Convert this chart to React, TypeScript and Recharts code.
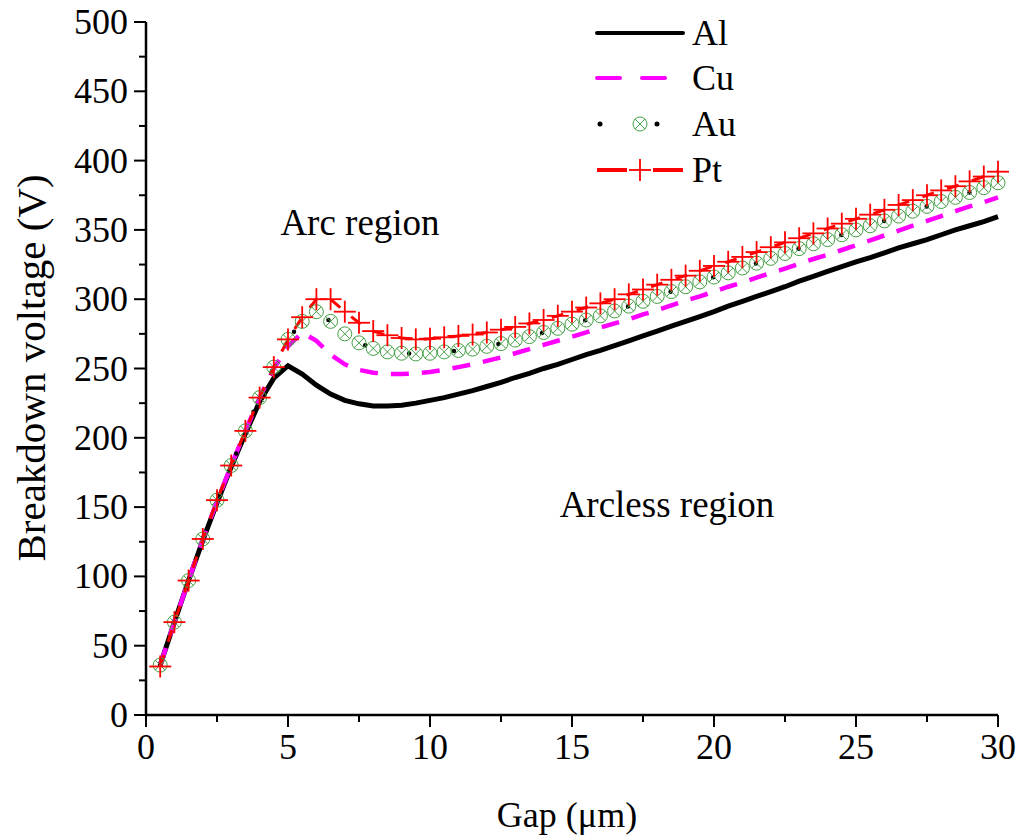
import { LineChart, Line, XAxis, YAxis } from "recharts";

// gap in micrometres
const gap = [
  0.5, 1, 1.5, 2, 2.5, 3, 3.5, 4, 4.5, 5,
  5.5, 6, 6.5, 7, 7.5, 8, 8.5, 9, 9.5, 10,
  10.5, 11, 11.5, 12, 12.5, 13, 13.5, 14, 14.5, 15,
  15.5, 16, 16.5, 17, 17.5, 18, 18.5, 19, 19.5, 20,
  20.5, 21, 21.5, 22, 22.5, 23, 23.5, 24, 24.5, 25,
  25.5, 26, 26.5, 27, 27.5, 28, 28.5, 29, 29.5, 30,
];

// breakdown voltage (V)
const al = [
  36, 67, 97, 126, 153, 179, 203, 226, 243, 252,
  246, 238, 231.5, 227, 224.5, 223, 223, 223.5, 225, 227,
  229, 231.5, 234, 237, 240, 243.5, 246.5, 250, 253, 256.5,
  260, 263, 266.5, 270, 273.5, 277, 280.5, 284, 287.5, 291,
  295, 298.5, 302, 305.5, 309, 313, 316.5, 320, 323.5, 327,
  330, 333.5, 337, 340, 343, 346.5, 350, 353, 356, 359.5,
];
const cu = [
  36, 67, 97, 127, 154, 180, 205, 229, 250, 266,
  276, 270, 260, 253, 249, 247, 246, 246, 246.5, 247.5,
  249, 251, 253, 255.5, 258, 261, 264, 267, 270, 273,
  276, 279.5, 282.5, 285.5, 289, 292, 295.5, 299, 302, 305.5,
  309, 312, 315.5, 319, 322, 325.5, 329, 332, 335.5, 339,
  342.5, 346, 349.5, 353, 356.5, 360, 363.5, 367, 370, 373.5,
];
const au = [
  36, 67, 97, 127, 155, 180, 205, 229, 251, 271,
  284, 291, 284, 275, 268.5, 264.5, 262, 261, 260.5, 261,
  262, 263, 264, 266, 268, 270.5, 273, 276, 279, 282,
  285, 288, 291.5, 295, 298.5, 302, 305.5, 309, 312.5, 316,
  319, 322.5, 326, 329.5, 333, 336.5, 340, 343, 346.5, 350,
  353, 356.5, 360, 363.5, 367, 370.5, 373.5, 377, 380.5, 384,
];
const pt = [
  35, 67, 97, 127, 155, 180, 205, 229, 251, 271,
  287, 300, 300, 291, 283, 277, 274, 272, 271, 271.5,
  272.5, 273.5, 274.5, 276, 278, 280, 282.5, 285, 288, 291,
  294, 297, 300, 303.5, 307, 310.5, 314, 317, 320.5, 324,
  327, 330.5, 334, 337.5, 341, 344, 347.5, 351, 354.5, 358,
  361, 364.5, 368, 371.5, 375, 378.5, 381.5, 385, 388.5, 392,
];

const xTicks = [0, 2.5, 5, 7.5, 10, 12.5, 15, 17.5, 20, 22.5, 25, 27.5, 30];
const yTicks = [
  0, 25, 50, 75, 100, 125, 150, 175, 200, 225, 250, 275, 300, 325, 350, 375,
  400, 425, 450, 475, 500,
];

const data = gap.map((g, i) => ({ gap: g, Al: al[i], Cu: cu[i], Au: au[i], Pt: pt[i] }));

const FONT = "'Liberation Serif', 'Times New Roman', serif";
const GREEN = "#44a044";
const MAGENTA = "#ff00ff";
const RED = "#ff0000";

function YTick(props: any) {
  const { x, y, payload } = props;
  const major = payload.value % 50 === 0;
  return (
    <g>
      <line x1={x - (major ? 12 : 7)} x2={x} y1={y} y2={y} stroke="#000" strokeWidth={2} />
      {major && (
        <text x={x - 18} y={y} textAnchor="end" dominantBaseline="central" fontSize={36} fontFamily={FONT} fill="#000">
          {payload.value}
        </text>
      )}
    </g>
  );
}

function XTick(props: any) {
  const { x, y, payload } = props;
  const major = payload.value % 5 === 0;
  return (
    <g>
      <line x1={x} x2={x} y1={y} y2={y + (major ? 12 : 7)} stroke="#000" strokeWidth={2} />
      {major && (
        <text x={x} y={y + 32} textAnchor="middle" dominantBaseline="central" fontSize={36} fontFamily={FONT} fill="#000">
          {payload.value}
        </text>
      )}
    </g>
  );
}

function AuMark({ cx, cy, r = 7 }: { cx: number; cy: number; r?: number }) {
  const d = r * 0.7;
  return (
    <g stroke={GREEN} strokeWidth={1} fill="none">
      <circle cx={cx} cy={cy} r={r} />
      <line x1={cx - d} y1={cy - d} x2={cx + d} y2={cy + d} />
      <line x1={cx - d} y1={cy + d} x2={cx + d} y2={cy - d} />
    </g>
  );
}

function PtMark({ cx, cy }: { cx: number; cy: number }) {
  return (
    <g stroke={RED} strokeWidth={1.8}>
      <line x1={cx - 11} y1={cy} x2={cx + 11} y2={cy} />
      <line x1={cx} y1={cy - 11} x2={cx} y2={cy + 11} />
    </g>
  );
}

function Overlay() {
  const rows = [33, 78, 124, 170];
  return (
    <svg width={1019} height={839} style={{ position: "absolute", left: 0, top: 0, pointerEvents: "none" }}>
      <g fontFamily={FONT} fill="#000">
        <text x={31} y={368} fontSize={41} textAnchor="middle" dominantBaseline="central" transform="rotate(-90 31 368)">
          Breakdown voltage (V)
        </text>
        <text x={567} y={815} fontSize={36} textAnchor="middle" dominantBaseline="central">
          Gap (μm)
        </text>
        <text x={360} y={222} fontSize={37} textAnchor="middle" dominantBaseline="central">
          Arc region
        </text>
        <text x={667} y={504} fontSize={37} textAnchor="middle" dominantBaseline="central">
          Arcless region
        </text>
      </g>
      {/* legend */}
      <line x1={597} x2={683} y1={rows[0]} y2={rows[0]} stroke="#000" strokeWidth={4} strokeLinecap="round" />
      <line x1={597} x2={620} y1={rows[1]} y2={rows[1]} stroke={MAGENTA} strokeWidth={4} strokeLinecap="round" />
      <line x1={642} x2={665} y1={rows[1]} y2={rows[1]} stroke={MAGENTA} strokeWidth={4} strokeLinecap="round" />
      <circle cx={600} cy={rows[2]} r={2.5} fill="#000" />
      <AuMark cx={640} cy={rows[2]} />
      <circle cx={657} cy={rows[2]} r={2.5} fill="#000" />
      <line x1={597} x2={627} y1={rows[3]} y2={rows[3]} stroke={RED} strokeWidth={4} />
      <line x1={653} x2={683} y1={rows[3]} y2={rows[3]} stroke={RED} strokeWidth={4} />
      <PtMark cx={640} cy={rows[3]} />
      <g fontFamily={FONT} fontSize={36} fill="#000">
        {["Al", "Cu", "Au", "Pt"].map((s, i) => (
          <text key={s} x={692} y={rows[i]} dominantBaseline="central">
            {s}
          </text>
        ))}
      </g>
    </svg>
  );
}

export default function App() {
  return (
    <div style={{ position: "absolute", left: 0, top: 0, width: 1019, height: 839, background: "#fff" }}>
      <LineChart width={1019} height={839} data={data} margin={{ top: 22, right: 21, left: 0, bottom: 0 }}>
        <XAxis
          dataKey="gap"
          type="number"
          domain={[0, 30]}
          ticks={xTicks}
          interval={0}
          height={124}
          tickSize={0}
          tickMargin={0}
          tick={<XTick />}
          axisLine={{ stroke: "#000", strokeWidth: 2.5 }}
          tickLine={false}
        />
        <YAxis
          type="number"
          domain={[0, 500]}
          ticks={yTicks}
          interval={0}
          width={146}
          tickSize={0}
          tickMargin={0}
          tick={<YTick />}
          axisLine={{ stroke: "#000", strokeWidth: 2.5 }}
          tickLine={false}
        />
        <Line dataKey="Al" stroke="#000" strokeWidth={5} dot={false} isAnimationActive={false} />
        <Line dataKey="Cu" stroke={MAGENTA} strokeWidth={4.5} strokeDasharray="18 13" dot={false} isAnimationActive={false} />
        <Line
          dataKey="Au"
          stroke="#000"
          strokeWidth={4.5}
          strokeDasharray="0 45"
          strokeLinecap="round"
          dot={(p: any) => <AuMark key={`au-${p.index}`} cx={p.cx} cy={p.cy} />}
          isAnimationActive={false}
        />
        <Line
          dataKey="Pt"
          stroke={RED}
          strokeWidth={3}
          strokeDasharray="12 14"
          dot={(p: any) => <PtMark key={`pt-${p.index}`} cx={p.cx} cy={p.cy} />}
          isAnimationActive={false}
        />
      </LineChart>
      <Overlay />
    </div>
  );
}
